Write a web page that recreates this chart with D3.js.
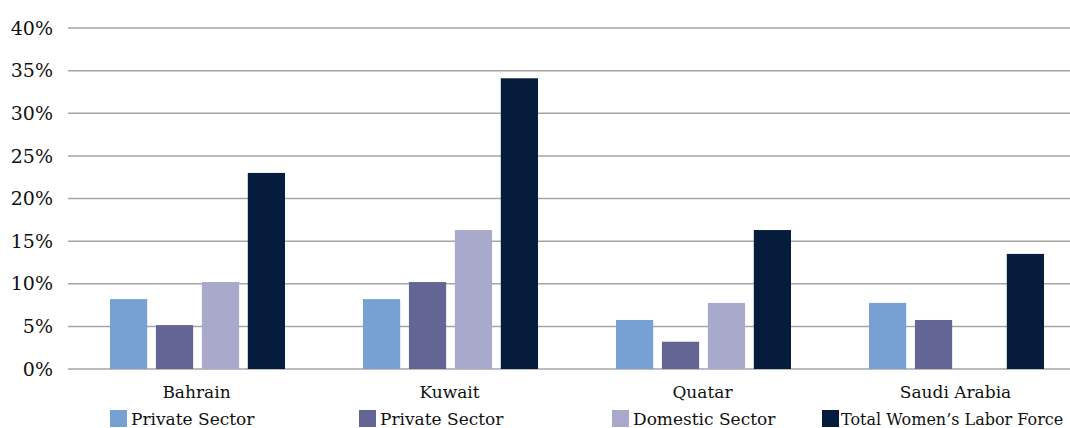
<!DOCTYPE html>
<html>
<head>
<meta charset="utf-8">
<script src="https://cdn.jsdelivr.net/npm/d3@7"></script>
<style>
  body { margin: 0; background: #fff; }
  svg { display: block; font-family: "DejaVu Serif", "Liberation Serif", serif; }
</style>
</head>
<body>
<svg id="chart"></svg>
<script>
// countries along the x axis
const countries = ["Bahrain", "Kuwait", "Quatar", "Saudi Arabia"];
// series names (as printed in the legend)
const seriesNames = ["Private Sector", "Private Sector", "Domestic Sector", "Total Women\u2019s Labor Force"];
const seriesColors = ["#77a1d3", "#636594", "#a9a9cc", "#061c3c"];
// values in percent, one array per series
const privateSectorA = [8.2, 8.2, 5.75, 7.75];
const privateSectorB = [5.15, 10.2, 3.2, 5.75];
const domesticSector = [10.2, 16.3, 7.75, 0];
const totalWomen = [23.0, 34.1, 16.3, 13.5];
const yTicks = [0, 5, 10, 15, 20, 25, 30, 35, 40];

const series = [privateSectorA, privateSectorB, domesticSector, totalWomen];

const width = 1070, height = 428;
const svg = d3.select("#chart").attr("width", width).attr("height", height);

const x = d3.scaleBand().domain(countries).range([70, 1082]);
const y = d3.scaleLinear().domain([0, 40]).range([369, 28]);
const inner = d3.scaleBand().domain(d3.range(series.length))
    .range([0, 175]).paddingInner(0.19);
const groupOffset = 40;

// gridlines
svg.append("g")
    .selectAll("line")
    .data(yTicks)
    .enter()
    .append("line")
    .attr("x1", 68)
    .attr("x2", width)
    .attr("y1", d => y(d))
    .attr("y2", d => y(d))
    .attr("stroke", "#a6a6a6")
    .attr("stroke-width", 1.5);

// y tick labels
svg.append("g")
    .selectAll("text")
    .data(yTicks)
    .enter()
    .append("text")
    .attr("x", 53)
    .attr("y", d => y(d))
    .attr("dy", "0.35em")
    .attr("text-anchor", "end")
    .attr("font-size", 19)
    .attr("fill", "#111")
    .text(d => d + "%");

// bars
series.forEach((vals, si) => {
    svg.append("g")
        .selectAll("rect")
        .data(vals.map((v, i) => ({ country: countries[i], value: v })))
        .enter()
        .filter(d => d.value > 0)
        .append("rect")
        .attr("x", d => x(d.country) + groupOffset + inner(si))
        .attr("y", d => y(d.value))
        .attr("width", inner.bandwidth())
        .attr("height", d => y(0) - y(d.value))
        .attr("fill", seriesColors[si]);
});

// category labels
svg.append("g")
    .selectAll("text")
    .data(countries)
    .enter()
    .append("text")
    .attr("x", d => x(d) + x.bandwidth() / 2)
    .attr("y", 398)
    .attr("text-anchor", "middle")
    .attr("font-size", 17)
    .attr("fill", "#111")
    .text(d => d);

// legend
const legendX = [110, 359, 612, 822];
const legend = svg.append("g")
    .selectAll("g")
    .data(seriesNames)
    .enter()
    .append("g")
    .attr("transform", (d, i) => `translate(${legendX[i]},410)`);

legend.append("rect")
    .attr("width", 17)
    .attr("height", 17)
    .attr("fill", (d, i) => seriesColors[i]);

// last entry a bit smaller so it stays inside the window
legend.append("text")
    .attr("x", (d, i) => i === 3 ? 19 : 21)
    .attr("y", 15)
    .attr("font-size", (d, i) => i === 3 ? 16 : 17)
    .attr("fill", "#111")
    .text(d => d);
</script>
</body>
</html>
